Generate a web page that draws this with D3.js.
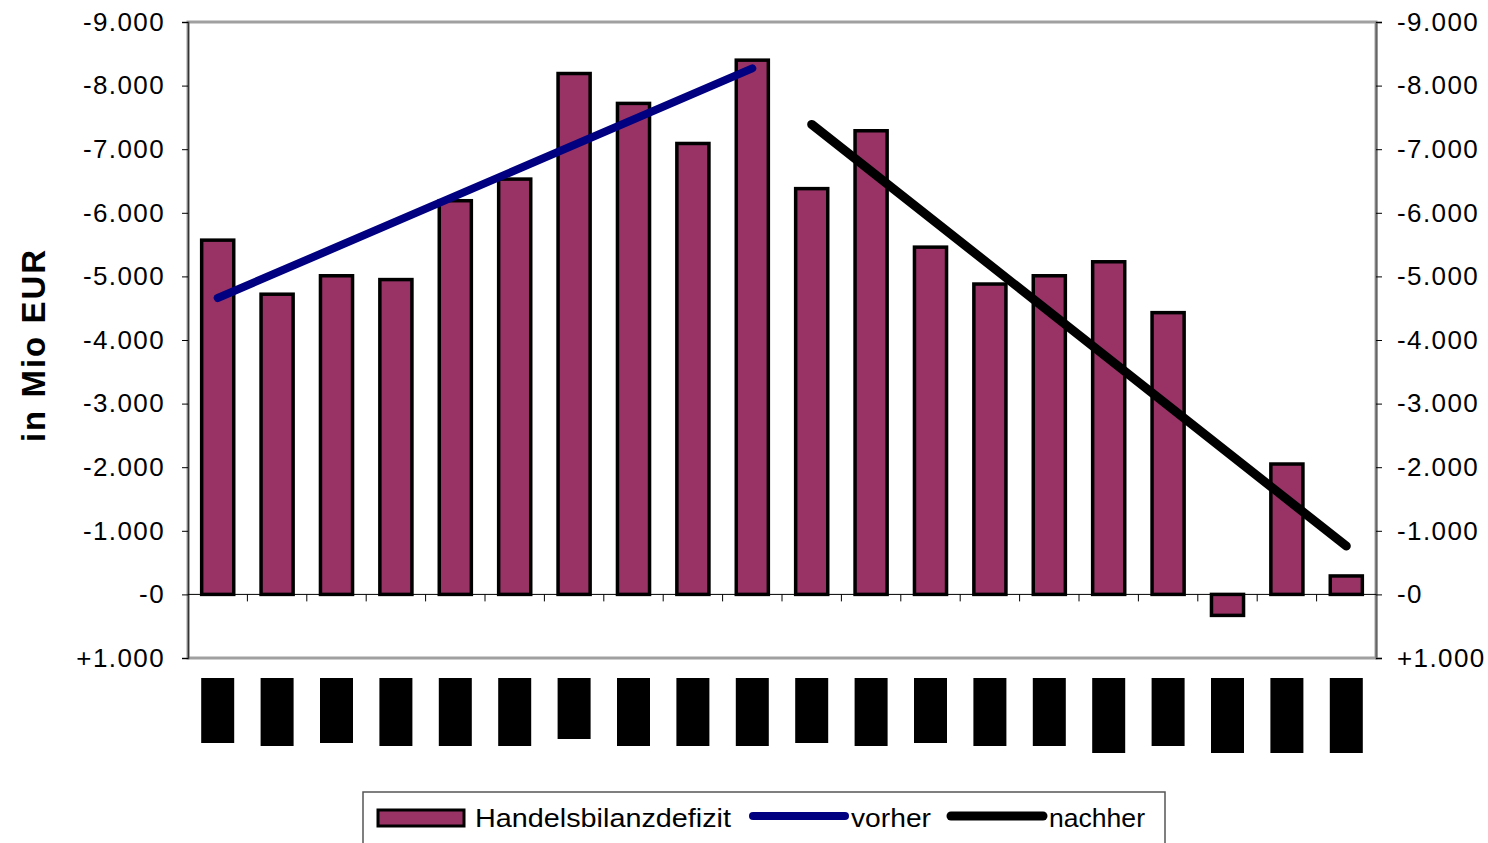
<!DOCTYPE html>
<html>
<head>
<meta charset="utf-8">
<script src="https://cdn.jsdelivr.net/npm/d3@7"></script>
<style>
  body { margin: 0; background: #fff; }
  svg { display: block; font-family: "Liberation Sans", Arial, sans-serif; }
</style>
</head>
<body>
<div id="root"></div>
<script>
// categories (labels are blacked out in the reference)
const categories = [
  "Q1 00", "Q2 00", "Q3 00", "Q4 00", "Q1 01", "Q2 01", "Q3 01", "Q4 01",
  "Q1 02", "Q2 02", "Q3 02", "Q4 02", "Q1 03", "Q2 03", "Q3 03", "Q4 03",
  "Q1 04", "Q2 04", "Q3 04", "Q4 04"
];
// height of each blacked-out label block
const labelBlocks = [65, 68, 65, 68, 68, 68, 61, 68, 68, 68, 65, 68, 65, 68, 68, 75, 68, 75, 75, 75];
const deficit = [
  -5570, -4720, -5010, -4950, -6190, -6530, -8190, -7720, -7090, -8400,
  -6380, -7290, -5460, -4880, -5010, -5230, -4430, 330, -2050, -290
];
// trend lines: endpoints [category index, value]
const vorher = [[0, -4660], [9, -8270]];
const nachher = [[10, -7390], [19, -760]];
const yTicks = [-9000, -8000, -7000, -6000, -5000, -4000, -3000, -2000, -1000, 0, 1000];

const width = 1488;
const height = 843;
const margin = { left: 188, right: 112, top: 22, bottom: 185 };
const plotW = width - margin.left - margin.right;
const plotH = height - margin.top - margin.bottom;

const svg = d3.select("#root").append("svg")
  .attr("width", width)
  .attr("height", height);

const x = d3.scaleBand()
  .domain(d3.range(categories.length))
  .range([margin.left, margin.left + plotW])
  .paddingInner(0.46)
  .paddingOuter(0.23);

const y = d3.scaleLinear()
  .domain([-9000, 1000])
  .range([margin.top, margin.top + plotH]);

const fmt = (v) => {
  if (v === 0) return "-0";
  const s = d3.format(",")(Math.abs(v)).replace(/,/g, ".");
  return (v < 0 ? "-" : "+") + s;
};

// frame
svg.append("rect")
  .attr("x", margin.left)
  .attr("y", margin.top)
  .attr("width", plotW)
  .attr("height", plotH)
  .attr("fill", "none")
  .attr("stroke", "#a0a0a0")
  .attr("stroke-width", 3);

// left axis
const leftAxis = svg.append("g")
  .attr("transform", `translate(${margin.left},0)`)
  .call(d3.axisLeft(y).tickValues(yTicks).tickFormat(fmt).tickSize(6).tickPadding(17));
leftAxis.select(".domain").attr("stroke", "#333").attr("stroke-width", 1.5);

// right axis
const rightAxis = svg.append("g")
  .attr("transform", `translate(${margin.left + plotW},0)`)
  .call(d3.axisRight(y).tickValues(yTicks).tickFormat(fmt).tickSize(6).tickPadding(15));
rightAxis.select(".domain").attr("stroke", "#666").attr("stroke-width", 2);

svg.selectAll(".tick text")
  .attr("font-size", 26)
  .attr("letter-spacing", 1.4)
  .attr("fill", "#000")
  .attr("font-family", "Liberation Sans, Arial, sans-serif");
svg.selectAll(".tick line").attr("stroke", "#000");

// y axis title
svg.append("text")
  .attr("transform", `translate(45,${margin.top + 323}) rotate(-90)`)
  .attr("text-anchor", "middle")
  .attr("font-size", 33)
  .attr("letter-spacing", 2)
  .attr("font-weight", "bold")
  .text("in Mio EUR");

// bars
svg.append("g")
  .selectAll("rect")
  .data(deficit)
  .join("rect")
  .attr("x", (d, i) => x(i))
  .attr("y", (d) => y(Math.min(d, 0)))
  .attr("width", x.bandwidth())
  .attr("height", (d) => Math.abs(y(d) - y(0)))
  .attr("fill", "#993366")
  .attr("stroke", "#000")
  .attr("stroke-width", 3.5);

// zero line with category ticks
svg.append("line")
  .attr("x1", margin.left)
  .attr("x2", margin.left + plotW)
  .attr("y1", y(0))
  .attr("y2", y(0))
  .attr("stroke", "#000")
  .attr("stroke-width", 1);

const step = x.step();
svg.append("g")
  .selectAll("line")
  .data(d3.range(1, categories.length))
  .join("line")
  .attr("x1", (i) => x(i) - step * 0.23)
  .attr("x2", (i) => x(i) - step * 0.23)
  .attr("y1", y(0))
  .attr("y2", y(0) + 7)
  .attr("stroke", "#000");

// trend lines
const line = d3.line()
  .x((d) => x(d[0]) + x.bandwidth() / 2)
  .y((d) => y(d[1]));

svg.append("path")
  .datum(vorher)
  .attr("d", line)
  .attr("fill", "none")
  .attr("stroke", "#000080")
  .attr("stroke-width", 8)
  .attr("stroke-linecap", "round");

svg.append("path")
  .datum(nachher)
  .attr("d", line)
  .attr("fill", "none")
  .attr("stroke", "#000")
  .attr("stroke-width", 9)
  .attr("stroke-linecap", "round");

// category labels (blacked out)
const labels = svg.append("g")
  .selectAll("g")
  .data(categories)
  .join("g")
  .attr("transform", (d, i) => `translate(${x(i) + x.bandwidth() / 2},678)`);

labels.append("rect")
  .attr("x", -16.5)
  .attr("y", 0)
  .attr("width", 33)
  .attr("height", (d, i) => labelBlocks[i])
  .attr("fill", "#000");

labels.append("text")
  .attr("transform", "rotate(-90)")
  .attr("x", -6)
  .attr("dy", "0.35em")
  .attr("text-anchor", "end")
  .attr("font-size", 16)
  .attr("fill", "#000")
  .text((d) => d);

// legend
const legend = svg.append("g").attr("transform", "translate(363,792)");
legend.append("rect")
  .attr("width", 802)
  .attr("height", 60)
  .attr("fill", "#fff")
  .attr("stroke", "#555")
  .attr("stroke-width", 1.5);

legend.append("rect")
  .attr("x", 15)
  .attr("y", 18)
  .attr("width", 86)
  .attr("height", 16)
  .attr("fill", "#993366")
  .attr("stroke", "#000")
  .attr("stroke-width", 3);
legend.append("text")
  .attr("x", 112)
  .attr("y", 35)
  .attr("font-size", 26)
  .attr("textLength", 256)
  .attr("lengthAdjust", "spacingAndGlyphs")
  .text("Handelsbilanzdefizit");

legend.append("line")
  .attr("x1", 390).attr("x2", 482)
  .attr("y1", 24).attr("y2", 24)
  .attr("stroke", "#000080")
  .attr("stroke-width", 8)
  .attr("stroke-linecap", "round");
legend.append("text")
  .attr("x", 488)
  .attr("y", 35)
  .attr("font-size", 26)
  .attr("textLength", 80)
  .attr("lengthAdjust", "spacingAndGlyphs")
  .text("vorher");

legend.append("line")
  .attr("x1", 588).attr("x2", 680)
  .attr("y1", 24).attr("y2", 24)
  .attr("stroke", "#000")
  .attr("stroke-width", 9)
  .attr("stroke-linecap", "round");
legend.append("text")
  .attr("x", 686)
  .attr("y", 35)
  .attr("font-size", 26)
  .attr("textLength", 96)
  .attr("lengthAdjust", "spacingAndGlyphs")
  .text("nachher");
</script>
</body>
</html>
